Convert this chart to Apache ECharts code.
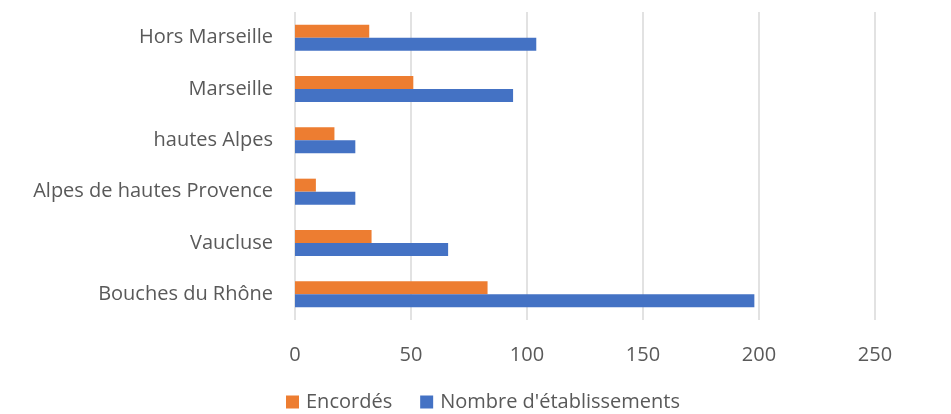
<!DOCTYPE html>
<html><head><meta charset="utf-8">
<script src="https://cdn.jsdelivr.net/npm/echarts@6/dist/echarts.min.js"></script>
<style>html,body{margin:0;padding:0;background:#fff}#c{width:951px;height:414px}</style>
</head><body><div id="c"></div>
<script>
var categories = ['Bouches du Rhône', 'Vaucluse', 'Alpes de hautes Provence', 'hautes Alpes', 'Marseille', 'Hors Marseille'];
var encordes = [83, 33, 9, 17, 51, 32];
var etablissements = [198, 66, 26, 26, 94, 104];
var xTicks = [0, 50, 100, 150, 200, 250];

var chart = echarts.init(document.getElementById('c'));
var font = 'Open Sans';
chart.setOption({
  animation: false,
  textStyle: {fontFamily: font},
  grid: {left: 295, right: 76, top: 12, bottom: 94, containLabel: false},
  legend: {
    data: ['Encordés', "Nombre d'établissements"],
    top: 387, left: 281,
    itemWidth: 13, itemHeight: 13, itemGap: 28,
    icon: 'rect',
    textStyle: {fontSize: 20, color: '#595959', fontFamily: font, padding: [0, 0, 0, 2]}
  },
  xAxis: {
    type: 'value', min: xTicks[0], max: xTicks[xTicks.length - 1], interval: 50,
    axisLine: {show: false}, axisTick: {show: false},
    splitLine: {lineStyle: {color: '#d9d9d9', width: 1.5}},
    axisLabel: {fontSize: 20, color: '#595959', margin: 25, fontFamily: font}
  },
  yAxis: {
    type: 'category', data: categories,
    axisLine: {show: false}, axisTick: {show: false},
    axisLabel: {fontSize: 20, color: '#595959', margin: 22, fontFamily: font}
  },
  series: [
    {name: 'Encordés', type: 'bar', data: encordes, barWidth: 13, barGap: '0%',
     itemStyle: {color: '#ed7d31'}},
    {name: "Nombre d'établissements", type: 'bar', data: etablissements, barWidth: 13, barGap: '0%',
     itemStyle: {color: '#4472c4'}}
  ]
});
</script></body></html>
